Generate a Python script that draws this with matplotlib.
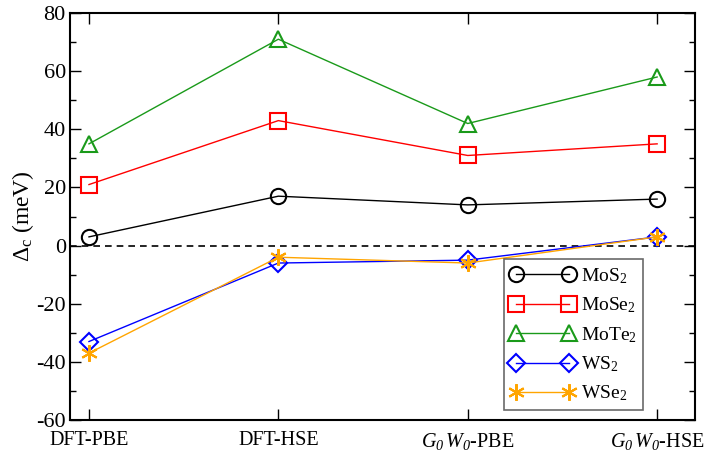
import matplotlib
matplotlib.use("Agg")
import matplotlib.pyplot as plt
from matplotlib.ticker import MultipleLocator

plt.rcParams['font.family'] = ['Liberation Serif', 'DejaVu Serif']
plt.rcParams['mathtext.fontset'] = 'custom'
plt.rcParams['mathtext.rm'] = 'Liberation Serif'
plt.rcParams['mathtext.it'] = 'Liberation Serif:italic'
plt.rcParams['mathtext.sf'] = 'Liberation Serif:italic'
plt.rcParams['axes.unicode_minus'] = False

methods = ["DFT-PBE", "DFT-HSE", "$G_{\\mathsf{0}}\\,W_{\\mathsf{0}}$-PBE", "$G_{\\mathsf{0}}\\,W_{\\mathsf{0}}$-HSE"]
mos2 = [3, 17, 14, 16]
mose2 = [21, 43, 31, 35]
mote2 = [35, 71, 42, 58]
ws2 = [-33, -6, -5, 3]
wse2 = [-37, -4, -6, 3]

fig = plt.figure(figsize=(7.11, 4.66), dpi=100)
ax = fig.add_axes([0.0985, 0.0987, 0.879, 0.8733])
x = list(range(len(methods)))

ax.axhline(0, color='black', ls='--', lw=1.2, dashes=(4, 3))
ms = 11
ax.plot(x, mos2, color='black', marker='o', mfc='none', ms=ms, mew=1.5, lw=1, label='MoS$_2$')
ax.plot(x, mose2, color='red', marker='s', mfc='none', ms=ms, mew=1.5, lw=1, label='MoSe$_2$')
ax.plot(x, mote2, color='#1a9a1a', marker='^', mfc='none', ms=ms + 1, mew=1.5, lw=1, label='MoTe$_2$')
ax.plot(x, ws2, color='blue', marker='D', mfc='none', ms=ms - 2, mew=1.5, lw=1, label='WS$_2$')
ax.plot(x, wse2, color='orange', marker=(6, 2, 0), ms=ms + 1, mew=1.5, lw=1, label='WSe$_2$')

ax.set_xlim(-0.1, 3.2)
ax.set_ylim(-60, 80)
ax.set_xticks(x)
ax.set_xticklabels(methods, fontsize=14.5)
ax.yaxis.set_major_locator(MultipleLocator(20))
ax.yaxis.set_minor_locator(MultipleLocator(10))
ax.tick_params(axis='both', which='both', direction='in', top=True, right=True)
ax.tick_params(axis='y', labelsize=16, pad=3)
ax.tick_params(which='major', length=8, width=1)
ax.tick_params(which='minor', length=4, width=1)
ax.tick_params(axis='x', pad=8)
for s in ax.spines.values():
    s.set_linewidth(1.5)
ax.set_ylabel('$\\mathrm{\\Delta_c}$ (meV)', fontsize=17, labelpad=0)

leg = ax.legend(loc='lower right', bbox_to_anchor=(0.933, 0.0), fontsize=14, frameon=True,
                fancybox=False, edgecolor='#444444', handlelength=3.3, borderpad=0.35,
                labelspacing=0.5, handletextpad=0.3, numpoints=2, borderaxespad=0.5)
leg.get_frame().set_linewidth(1.2)

fig.savefig('out.png', dpi=100)
